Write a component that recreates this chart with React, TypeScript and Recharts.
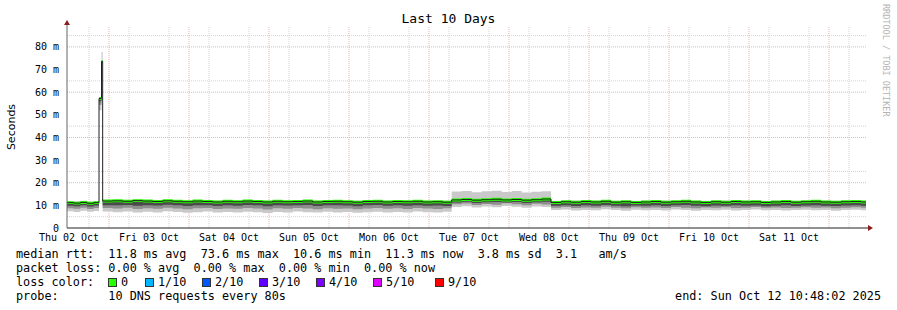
import {
  ComposedChart,
  Area,
  Line,
  XAxis,
  YAxis,
  CartesianGrid,
  ReferenceDot,
} from "recharts";

// time axis: hours since start of the 10 day window
const hours = [
  0, 2, 4, 6, 8, 9.6, 10.35, 10.7, 13.7, 16.7, 19.7, 22.7, 25.7, 28.7, 31.7,
  34.7, 37.7, 40.7, 43.7, 46.7, 49.7, 52.7, 55.7, 58.7, 61.7, 64.7, 67.7, 70.7,
  73.7, 76.7, 79.7, 82.7, 85.7, 88.7, 91.7, 94.7, 97.7, 100.7, 103.7, 106.7,
  109.7, 112.7, 115.4, 118.4, 121.4, 124.4, 127.4, 130.4, 133.4, 136.4, 139.4,
  142.4, 145.2, 148.2, 151.2, 154.2, 157.2, 160.2, 163.2, 166.2, 169.2, 172.2,
  175.2, 178.2, 181.2, 184.2, 187.2, 190.2, 193.2, 196.2, 199.2, 202.2, 205.2,
  208.2, 211.2, 214.2, 217.2, 220.2, 223.2, 226.2, 229.2, 232.2, 235.2, 238.2,
  239.7,
];

// median rtt (ms)
const median = [
  11.2, 11.0, 11.3, 10.9, 11.2, 57.2, 73.6, 11.9,
  12.0, 11.8, 12.1, 11.9, 11.7, 12.0, 11.8, 11.6, 11.9, 11.7,
  11.5, 11.8, 11.6, 11.9, 11.7, 11.5, 11.8, 11.6, 11.7, 11.9,
  11.5, 11.7, 11.8, 11.6, 11.4, 11.7, 11.8, 11.5, 11.7, 11.6,
  11.8, 11.5, 11.6, 11.4,
  12.4, 12.6, 12.3, 12.5, 12.7, 12.4, 12.6, 12.3, 12.5, 12.8,
  11.3, 11.6, 11.4, 11.7, 11.5, 11.8, 11.4, 11.6, 11.3, 11.5,
  11.7, 11.4, 11.6, 11.8, 11.5, 11.3, 11.6, 11.4, 11.7, 11.5,
  11.6, 11.3, 11.5, 11.7, 11.4, 11.6, 11.8, 11.5, 11.4, 11.6,
  11.7, 11.5, 11.5,
];

// top of the smoke (slowest ping)
const smokeHi = [
  11.9, 11.8, 12.0, 11.7, 11.9, 57.6, 77.8, 12.5,
  12.6, 12.4, 12.7, 12.5, 12.3, 12.6, 12.4, 12.2, 12.5, 12.3,
  12.2, 12.4, 12.3, 12.5, 12.3, 12.1, 12.4, 12.2, 12.3, 12.5,
  12.2, 12.3, 12.4, 12.2, 12.1, 12.3, 12.4, 12.2, 12.3, 12.2,
  12.4, 12.1, 12.2, 12.1,
  16.1, 16.4, 15.8, 16.2, 16.5, 15.9, 16.3, 15.7, 16.0, 16.2,
  12.0, 12.2, 12.1, 12.3, 12.1, 12.4, 12.0, 12.2, 12.0, 12.1,
  12.3, 12.1, 12.2, 12.4, 12.1, 12.0, 12.2, 12.1, 12.3, 12.1,
  12.2, 12.0, 12.1, 12.3, 12.0, 12.2, 12.4, 12.1, 12.0, 12.2,
  12.3, 12.1, 12.1,
];

// bottom of the light smoke (fastest ping)
const smokeLo = [
  7.4, 7.1, 7.6, 7.2, 7.5, 52.0, 72.8, 7.3,
  7.0, 7.3, 6.8, 7.2, 6.9, 7.4, 7.1, 6.7, 7.0, 7.3,
  6.9, 7.1, 6.8, 7.2, 7.0, 6.6, 7.1, 6.9, 7.3, 7.0,
  6.8, 7.2, 6.9, 7.1, 6.7, 7.0, 7.2, 6.9, 7.1, 6.8,
  7.3, 7.0, 6.9, 7.2,
  9.3, 9.6, 9.1, 9.5, 9.2, 9.7, 9.4, 9.0, 9.5, 9.3,
  7.9, 8.2, 7.7, 8.0, 7.8, 8.3, 7.9, 7.6, 8.1, 7.8,
  8.0, 7.7, 8.2, 7.9, 7.6, 8.0, 7.8, 8.1, 7.7, 7.9,
  8.2, 7.8, 8.0, 7.7, 7.9, 8.1, 7.8, 8.0, 7.6, 7.9,
  8.1, 7.8, 7.9,
];

// bottom of the medium smoke
const smokeMid = [
  8.7, 8.5, 8.9, 8.4, 8.8, 54.5, 73.0, 8.8,
  8.6, 8.9, 8.4, 8.7, 8.5, 8.9, 8.6, 8.3, 8.7, 8.8,
  8.4, 8.6, 8.5, 8.8, 8.6, 8.2, 8.7, 8.5, 8.8, 8.6,
  8.3, 8.7, 8.5, 8.6, 8.3, 8.6, 8.8, 8.5, 8.7, 8.4,
  8.8, 8.6, 8.4, 8.7,
  10.5, 10.8, 10.2, 10.6, 10.3, 10.9, 10.5, 10.1, 10.7, 10.4,
  9.0, 9.3, 8.8, 9.1, 8.9, 9.4, 9.0, 8.7, 9.2, 8.9,
  9.1, 8.8, 9.3, 9.0, 8.7, 9.1, 8.9, 9.2, 8.8, 9.0,
  9.3, 8.9, 9.1, 8.8, 9.0, 9.2, 8.9, 9.1, 8.7, 9.0,
  9.2, 8.9, 9.0,
];

// bottom of the dark smoke
const smokeDark = [
  9.8, 9.6, 10.0, 9.5, 9.9, 56.0, 73.2, 10.0,
  10.0, 10.2, 9.8, 10.1, 9.9, 10.3, 10.0, 9.7, 10.1, 10.0,
  9.7, 10.0, 9.8, 10.2, 10.0, 9.6, 10.1, 9.9, 10.1, 10.2,
  9.7, 10.0, 10.1, 9.9, 9.6, 10.0, 10.2, 9.8, 10.0, 9.8,
  10.1, 9.8, 9.9, 9.7,
  11.3, 11.6, 11.1, 11.4, 11.5, 11.3, 11.5, 11.0, 11.4, 11.6,
  9.8, 10.1, 9.7, 10.0, 9.8, 10.2, 9.8, 9.6, 9.9, 9.8,
  10.0, 9.7, 10.1, 10.2, 9.8, 9.6, 9.9, 9.8, 10.0, 9.8,
  9.9, 9.6, 9.8, 10.0, 9.7, 9.9, 10.1, 9.8, 9.7, 9.9,
  10.0, 9.8, 9.8,
];

const dayLabels = [
  "Thu 02 Oct", "Fri 03 Oct", "Sat 04 Oct", "Sun 05 Oct", "Mon 06 Oct",
  "Tue 07 Oct", "Wed 08 Oct", "Thu 09 Oct", "Fri 10 Oct", "Sat 11 Oct",
];
const dayTicks = [0.6, 24.6, 48.6, 72.6, 96.6, 120.6, 144.6, 168.6, 192.6, 216.6];
const yTicks = [0, 10, 20, 30, 40, 50, 60, 70, 80];

const lossLabels = ["0", "1/10", "2/10", "3/10", "4/10", "5/10", "9/10"];
const lossColors = ["#26ff00", "#00b8ff", "#0059ff", "#5e00ff", "#7e00ff", "#dd00ff", "#ff0000"];
const lossX = [108, 145, 202, 259, 316, 373, 435];

const data = hours.map((h, i) => ({
  h,
  median: median[i],
  hi: smokeHi[i],
  lo: smokeLo[i],
  mid: smokeMid[i],
  dark: smokeDark[i],
}));

// grid lines (rrdtool style: minor gray, major pink)
const minorY = [5, 15, 25, 35, 45, 55, 65, 75, 85];
const majorY = [10, 20, 30, 40, 50, 60, 70, 80];
const minorX: number[] = [];
const majorX: number[] = [];
for (let t = 0.6; t < 240; t += 6) {
  if (Math.round((t - 12.6) / 6) % 4 === 0) majorX.push(t);
  else minorX.push(t);
}

const mono = "'DejaVu Sans Mono', monospace";
const arrowColor = "#8c1c1c";

const txt = (left: number, top: number, s: string, extra = {}) => (
  <div
    style={{
      position: "absolute",
      left,
      top,
      fontFamily: mono,
      fontSize: 11.8,
      lineHeight: "14px",
      whiteSpace: "pre",
      color: "#000",
      ...extra,
    }}
  >
    {s}
  </div>
);

export default function App() {
  return (
    <div
      style={{
        position: "absolute",
        left: 0,
        top: 0,
        width: 897,
        height: 310,
        background: "#fff",
        overflow: "hidden",
      }}
    >
      <ComposedChart
        width={897}
        height={310}
        data={data}
        margin={{ top: 27, right: 30, left: 17, bottom: 62 }}
      >
        <CartesianGrid
          horizontalValues={minorY}
          verticalValues={minorX}
          stroke="#d2d2d2"
          strokeDasharray="1 1"
        />
        <CartesianGrid
          horizontalValues={majorY}
          verticalValues={majorX}
          stroke="#ecb4b4"
          strokeDasharray="1 1"
        />
        <XAxis
          dataKey="h"
          type="number"
          domain={[0, 240]}
          allowDataOverflow
          ticks={dayTicks}
          tickFormatter={(v) => dayLabels[dayTicks.indexOf(v)] ?? ""}
          tickLine={false}
          tickSize={3}
          tickMargin={3}
          height={20}
          axisLine={{ stroke: "#222" }}
          tick={{ fontFamily: mono, fontSize: 10, fill: "#000" }}
        />
        <YAxis
          type="number"
          domain={[0, 88.8]}
          allowDataOverflow
          ticks={yTicks}
          tickFormatter={(v) => (v === 0 ? "0" : `${v} m`)}
          tickLine={false}
          width={50}
          axisLine={{ stroke: "#666" }}
          tick={{ fontFamily: mono, fontSize: 10, fill: "#000" }}
        />
        {/* smoke */}
        <Area
          type="stepAfter"
          dataKey={(d: any) => [d.lo, d.hi]}
          stroke="none"
          fill="#c9c9c9"
          fillOpacity={1}
          isAnimationActive={false}
          activeDot={false}
        />
        <Area
          type="stepAfter"
          dataKey={(d: any) => [d.mid, d.median]}
          stroke="none"
          fill="#8e8e8e"
          fillOpacity={1}
          isAnimationActive={false}
          activeDot={false}
        />
        <Area
          type="stepAfter"
          dataKey={(d: any) => [d.dark, d.median]}
          stroke="none"
          fill="#4a4a4a"
          fillOpacity={1}
          isAnimationActive={false}
          activeDot={false}
        />
        {/* median line */}
        <Line
          type="stepAfter"
          dataKey="median"
          stroke="#202020"
          strokeWidth={1}
          dot={false}
          activeDot={false}
          isAnimationActive={false}
        />
        {/* loss colour band on the median */}
        <Area
          type="stepAfter"
          dataKey={(d: any) => [d.median - 0.65, d.median + 0.65]}
          stroke="none"
          fill="#26ff00"
          fillOpacity={1}
          isAnimationActive={false}
          activeDot={false}
        />
        <ReferenceDot
          x={0}
          y={88.8}
          ifOverflow="visible"
          shape={(p: any) => (
            <g>
              <line x1={p.cx} y1={p.cy - 3} x2={p.cx} y2={p.cy} stroke="#666" />
              <path
                d={`M${p.cx - 3},${p.cy - 2} L${p.cx + 3},${p.cy - 2} L${p.cx},${p.cy - 7} Z`}
                fill={arrowColor}
              />
            </g>
          )}
        />
        <ReferenceDot
          x={240}
          y={0}
          ifOverflow="visible"
          shape={(p: any) => (
            <g>
              <line x1={p.cx} y1={p.cy} x2={p.cx + 2} y2={p.cy} stroke="#222" />
              <path
                d={`M${p.cx + 1},${p.cy - 3} L${p.cx + 1},${p.cy + 3} L${p.cx + 6},${p.cy} Z`}
                fill={arrowColor}
              />
            </g>
          )}
        />
      </ComposedChart>

      {/* title */}
      <div
        style={{
          position: "absolute",
          left: 0,
          width: 897,
          top: 11,
          textAlign: "center",
          fontFamily: mono,
          fontSize: 13,
          lineHeight: "16px",
        }}
      >
        Last 10 Days
      </div>

      {/* y label */}
      <div
        style={{
          position: "absolute",
          left: 11,
          top: 127,
          transform: "translate(-50%, -50%) rotate(-90deg)",
          fontFamily: "'DejaVu Sans', sans-serif",
          fontSize: 11,
          whiteSpace: "nowrap",
        }}
      >
        Seconds
      </div>

      {/* rrdtool watermark */}
      <div
        style={{
          position: "absolute",
          left: 881,
          top: 4,
          writingMode: "vertical-rl",
          fontFamily: mono,
          fontSize: 8.5,
          lineHeight: "10px",
          color: "#b4b4b4",
          whiteSpace: "pre",
        }}
      >
        RRDTOOL / TOBI OETIKER
      </div>

      {txt(16, 247, "median rtt:  11.8 ms avg  73.6 ms max  10.6 ms min  11.3 ms now  3.8 ms sd  3.1   am/s")}
      {txt(16, 261, "packet loss: 0.00 % avg  0.00 % max  0.00 % min  0.00 % now")}
      {txt(16, 275, "loss color:")}
      {lossLabels.map((l, i) => (
        <div key={l}>
          <div
            style={{
              position: "absolute",
              left: lossX[i],
              top: 278,
              width: 7,
              height: 7,
              background: lossColors[i],
              border: "1px solid #333",
            }}
          />
          {txt(lossX[i] + 13, 275, l)}
        </div>
      ))}
      {txt(16, 289, "probe:       10 DNS requests every 80s")}
      {txt(0, 289, "end: Sun Oct 12 10:48:02 2025", { width: 881, textAlign: "right" })}
    </div>
  );
}
